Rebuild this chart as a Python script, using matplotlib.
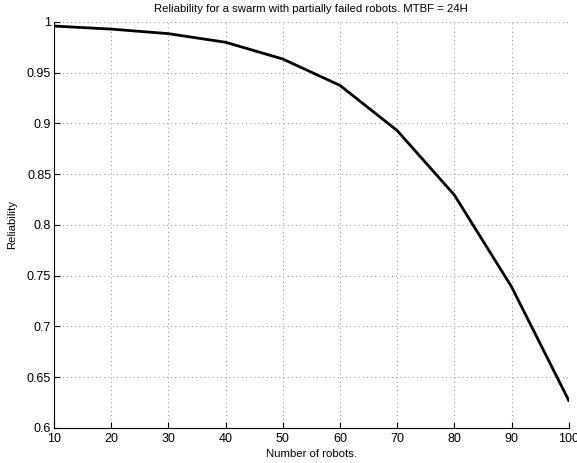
import matplotlib.pyplot as plt
import numpy as np

# data
robots = [10, 20, 30, 40, 50, 60, 70, 80, 90, 100]
reliability = [0.996, 0.993, 0.9885, 0.980, 0.9635, 0.9375, 0.893, 0.8295, 0.739, 0.627]
xticks = np.arange(10, 101, 10)
yticks = [0.6, 0.65, 0.7, 0.75, 0.8, 0.85, 0.9, 0.95, 1]
ylabels = ['0.6', '0.65', '0.7', '0.75', '0.8', '0.85', '0.9', '0.95', '1']

plt.rcParams['font.family'] = ['Liberation Sans', 'DejaVu Sans']
plt.rcParams['font.size'] = 8

fig = plt.figure(figsize=(5.77, 4.63), dpi=100)
ax = fig.add_axes([0.0936, 0.0762, 0.892, 0.8763])

ax.plot(robots, reliability, color='black', linewidth=2)

ax.set_xlim(10, 100)
ax.set_ylim(0.6, 1)
ax.set_xticks(xticks)
ax.set_yticks(yticks)
ax.set_yticklabels(ylabels)
ax.tick_params(direction='in', length=4, width=0.8, labelsize=9)
ax.tick_params(axis='x', pad=4)
ax.tick_params(axis='y', pad=2)

ax.grid(True, linestyle=(0, (1, 4)), color='black', linewidth=0.6, alpha=0.6)
ax.spines['top'].set_visible(False)
ax.spines['right'].set_visible(False)

ax.set_title('Reliability for a swarm with partially failed robots. MTBF = 24H', fontsize=8.2, pad=7)
ax.set_xlabel('Number of robots.', fontsize=8.2, labelpad=2.5)
ax.set_ylabel('Reliability', fontsize=8.2, labelpad=7)

fig.savefig('out.png', dpi=100)
